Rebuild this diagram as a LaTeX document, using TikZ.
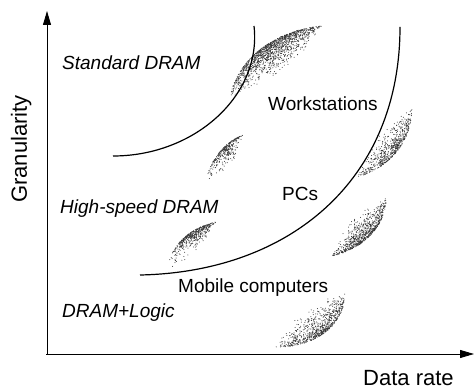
\documentclass[tikz,border=0pt]{standalone}
\usepackage{fontspec}
\setmainfont{Liberation Sans}
\usetikzlibrary{arrows.meta}
\begin{document}
\begin{tikzpicture}[x=1pt,y=-1pt,
  axis/.style={line width=0.9pt,-{Triangle[length=14pt,width=8pt]}},
  bound/.style={line width=1.2pt},
  lab/.style={font=\fontsize{19}{22}\selectfont, inner sep=0pt, anchor=base west},
  ilab/.style={lab, font=\fontsize{19}{22}\selectfont\itshape},
  axlab/.style={font=\fontsize{22}{26}\selectfont, inner sep=0pt, anchor=base west},
  dotc/.style={fill=black!80}]
\useasboundingbox (0,0) rectangle (475,390);
% stippled crescents: tip A, outer controls, tip B, max inward spread, skew, dot count
\pgfmathsetseed{4711}
\foreach \ax/\ay/\ox/\oy/\px/\py/\bx/\by/\qm/\te/\n in {
  230/98/236/60/275/30/322/26/1.6/0.9/1400,
  205/190/206/165/222/143/243/135/1.8/0.6/330,
  167/270/170/245/190/228/216/222/1.7/0.7/480,
  357/177/385/170/412/145/412/108/1.6/1.0/620,
  332/256/362/250/388/225/386/196/1.6/1.1/760,
  276/347/315/348/345/325/345/293/1.6/1.0/760}{
  \foreach \k in {1,...,\n}{
    \pgfmathsetmacro\bt{max((rnd+rnd)/2,0.001)^\te}
    \pgfmathsetmacro\bq{\qm*rnd*rnd}
    \pgfmathsetmacro\bu{1-\bt}
    \pgfmathsetmacro\cxa{\ox+\bq*(\ax+(\bx-\ax)/3-\ox)}
    \pgfmathsetmacro\cya{\oy+\bq*(\ay+(\by-\ay)/3-\oy)}
    \pgfmathsetmacro\cxb{\px+\bq*(\ax+2*(\bx-\ax)/3-\px)}
    \pgfmathsetmacro\cyb{\py+\bq*(\ay+2*(\by-\ay)/3-\py)}
    \pgfmathsetmacro\X{\bu^3*\ax+3*\bu^2*\bt*\cxa+3*\bu*\bt^2*\cxb+\bt^3*\bx}
    \pgfmathsetmacro\Y{\bu^3*\ay+3*\bu^2*\bt*\cya+3*\bu*\bt^2*\cyb+\bt^3*\by}
    \fill[dotc] (\X,\Y) circle[radius=0.5pt];
  }
}
% axes
\coordinate (O) at (46,354);
\coordinate (ytip) at (47,11);
\coordinate (xtip) at (474,354);
\draw[axis] (47,354) -- (ytip);
\draw[axis] (O) -- (xtip);
% boundary curves
\coordinate (c1s) at (113,156);
\coordinate (c1e) at (254,26);
\coordinate (c2s) at (140,275);
\coordinate (c2e) at (400,27);
\draw[bound] (c1s) .. controls (195,156) and (262,95) .. (c1e);
\draw[bound] (c2s) .. controls (290,272) and (400,180) .. (c2e);
% labels
\node[ilab] (std) at (62,70) {Standard DRAM};
\node[lab] (ws) at (268,111) {Workstations};
\node[lab] (pc) at (282,201) {PCs};
\node[ilab] (hs) at (60,214) {High-speed DRAM};
\node[lab] (mob) at (178,293) {Mobile computers};
\node[ilab] (dl) at (62,318) {DRAM+Logic};
\node[axlab] (xl) at (363,386) {Data rate};
\node[axlab, rotate=90] (yl) at (27,203) {Granularity};
\end{tikzpicture}
\end{document}
